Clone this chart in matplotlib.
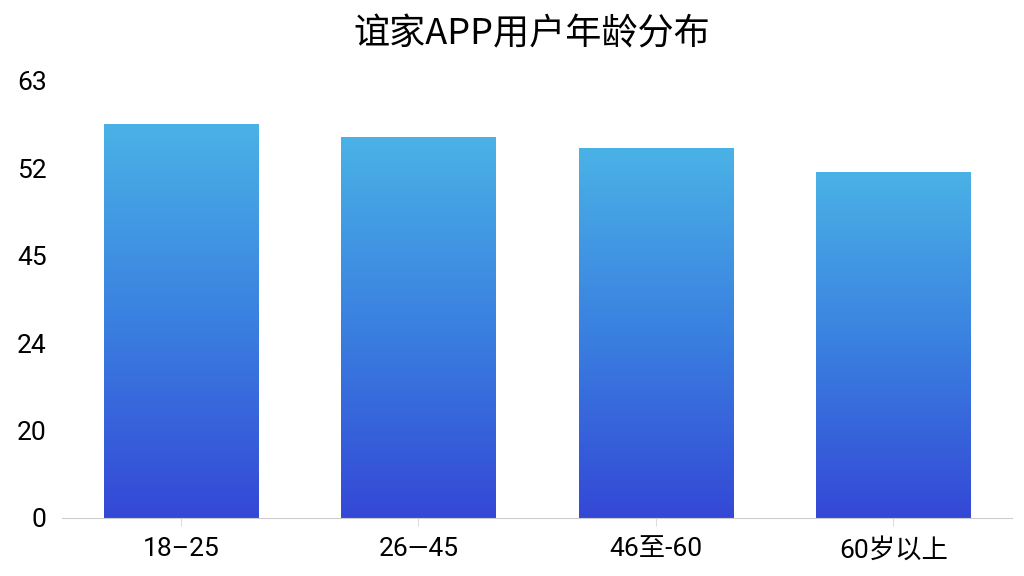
import numpy as np
import matplotlib.pyplot as plt
from matplotlib.colors import LinearSegmentedColormap

plt.rcParams['font.family'] = ['Noto Sans CJK SC', 'DejaVu Sans']

# Data (in axis units; y tick labels are as shown on the chart)
categories = ['18–25', '26—45', '46至-60', '60岁以上']
values = [4.51, 4.36, 4.23, 3.96]
y_tick_labels = ['0', '20', '24', '45', '52', '63']
title = '谊家APP用户年龄分布'

fig = plt.figure(figsize=(10.24, 5.76), dpi=100)
ax = fig.add_axes([0.0605, 0.1007, 0.928, 0.7587])

x = np.arange(len(categories))
bar_width = 0.65
bars = ax.bar(x, values, width=bar_width, color='none', edgecolor='none')

# vertical gradient inside each bar
cmap = LinearSegmentedColormap.from_list('blues', ['#3448d6', '#3a80e0', '#4ab2e6'])
grad = np.linspace(0, 1, 256).reshape(-1, 1)
for b in bars:
    x0, y0 = b.get_x(), b.get_y()
    w, h = b.get_width(), b.get_height()
    im = ax.imshow(grad, cmap=cmap, origin='lower', aspect='auto',
                   extent=[x0, x0 + w, y0, y0 + h], zorder=2)
    im.set_clip_path(b)

tick_font = ['Roboto', 'Noto Sans CJK SC', 'DejaVu Sans']
ax.set_xlim(-0.5, len(categories) - 0.5)
ax.set_ylim(0, 5)
ax.set_xticks(x)
ax.set_xticklabels(categories, fontsize=19, family=tick_font)
ax.set_yticks(range(len(y_tick_labels)))
ax.set_yticklabels(y_tick_labels, fontsize=19, family=tick_font)

for side in ['top', 'right', 'left']:
    ax.spines[side].set_visible(False)
ax.spines['bottom'].set_color('#cccccc')
ax.tick_params(axis='x', length=6, color='#dddddd', pad=8)
ax.tick_params(axis='y', length=0, pad=11)

fig.text(0.519, 0.94, title, fontsize=26, ha='center', va='center')

fig.savefig('out.png', dpi=100)
